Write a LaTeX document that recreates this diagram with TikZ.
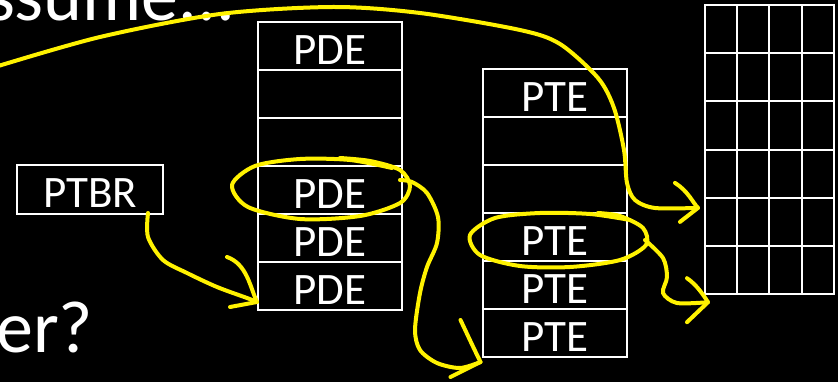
\documentclass[tikz,border=0pt]{standalone}
\usepackage{fontspec}
\setmainfont{Carlito}
\usetikzlibrary{positioning}

\begin{document}
\begin{tikzpicture}[x=1pt,y=-1pt,
  cell/.style={draw=white,line width=2pt,minimum width=144pt,minimum height=48pt,
    inner sep=0pt,outer sep=0pt,text height=37pt,text depth=0pt,text=white,
    font=\fontsize{45}{54}\selectfont},
  frame/.style={draw=white,line width=2pt,minimum width=32.25pt,minimum height=48.2pt,
    inner sep=0pt,outer sep=0pt},
  big/.style={text=white,inner sep=0pt,font=\fontsize{74}{88}\selectfont},
  hand/.style={draw=yellow,line width=4pt,line cap=round,line join=round}]
\useasboundingbox (0,0) rectangle (838,382);
\fill [black] (0,0) rectangle (838,382);

\node [big,anchor=base east] (ask) at (235,21) {assume...};
\node [big,anchor=base west] (more) at (-4,352) {er?};

\node [cell,minimum width=146pt,minimum height=49pt] (ptbr) at (90,189.5) {PTBR};

% page directory
\node [cell] (d1) at (330,46) {PDE};
\node [cell,below=0pt of d1] (d2) {};
\node [cell,below=0pt of d2] (d3) {};
\node [cell,below=0pt of d3] (d4) {PDE};
\node [cell,below=0pt of d4] (d5) {PDE};
\node [cell,below=0pt of d5] (d6) {PDE};

% page table
\node [cell] (t1) at (554.5,93) {PTE};
\node [cell,below=0pt of t1] (t2) {};
\node [cell,below=0pt of t2] (t3) {};
\node [cell,below=0pt of t3] (t4) {PTE};
\node [cell,below=0pt of t4] (t5) {PTE};
\node [cell,below=0pt of t5] (t6) {PTE};

% physical page
\foreach \r in {0,...,5}
  \foreach \c in {0,...,3}
    \node [frame] (f\r\c) at (721.1+32.25*\c,29.1+48.2*\r) {};

\coordinate (s1) at ([shift={(-15,-1)}]ptbr.south east);
\coordinate (e1) at ([shift={(-1,16)}]d6.west);
\coordinate (e2) at ([shift={(-2,5)}]t6.south west);
\coordinate (e3) at ([shift={(3,8)}]f50.south west);
\coordinate (s4) at (-5,67);
\coordinate (e4) at ([shift={(-7,-14)}]f40.west);

\draw [hand] plot [smooth] coordinates {(s1) (148,237) (163,260) (187,273) (217,287) (247,298) (e1)};
\draw [hand,shift={(e1)}] (-30,-45) .. controls (-10,-38) and (-7,-15) .. (0,0) -- (-27,5);

\draw [hand] plot [smooth] coordinates {(392,168) (350,160) (300,159) (255,166) (232,185)
  (248,207) (300,219) (360,216) (400,203) (410,186) (400,170) (370,161) (340,158)};
\draw [hand] plot [smooth] coordinates {(400,180) (412,182) (427,193) (438,217) (437,243)
  (427,267) (420,293) (415,330) (420,350) (437,363) (460,368) (e2)};
\draw [hand,shift={(e2)}] (-20,-42) .. controls (-12,-25) and (-5,-10) .. (0,0) -- (-30,15);

\draw [hand] plot [smooth] coordinates {(630,220) (590,214) (540,213) (495,218) (470,235)
  (480,255) (520,266) (570,267) (620,260) (646,245) (643,228) (620,216) (598,213)};
\draw [hand] plot [smooth] coordinates {(645,240) (663,258) (667,277) (663,293) (677,303) (e3)};
\draw [hand,shift={(e3)}] (-21,-24) .. controls (-12,-18) and (-5,-8) .. (0,0) -- (-21,20);

\draw [hand] plot [smooth] coordinates {(s4) (100,37) (220,14) (333,7) (420,13) (520,30)
  (560,44) (598,78) (614,108) (624,150) (627,183) (635,200) (655,208) (e4)};
\draw [hand,shift={(e4)}] (-23,-25) .. controls (-10,-17) and (-5,-5) .. (0,0) -- (-18,14);
\end{tikzpicture}
\end{document}
